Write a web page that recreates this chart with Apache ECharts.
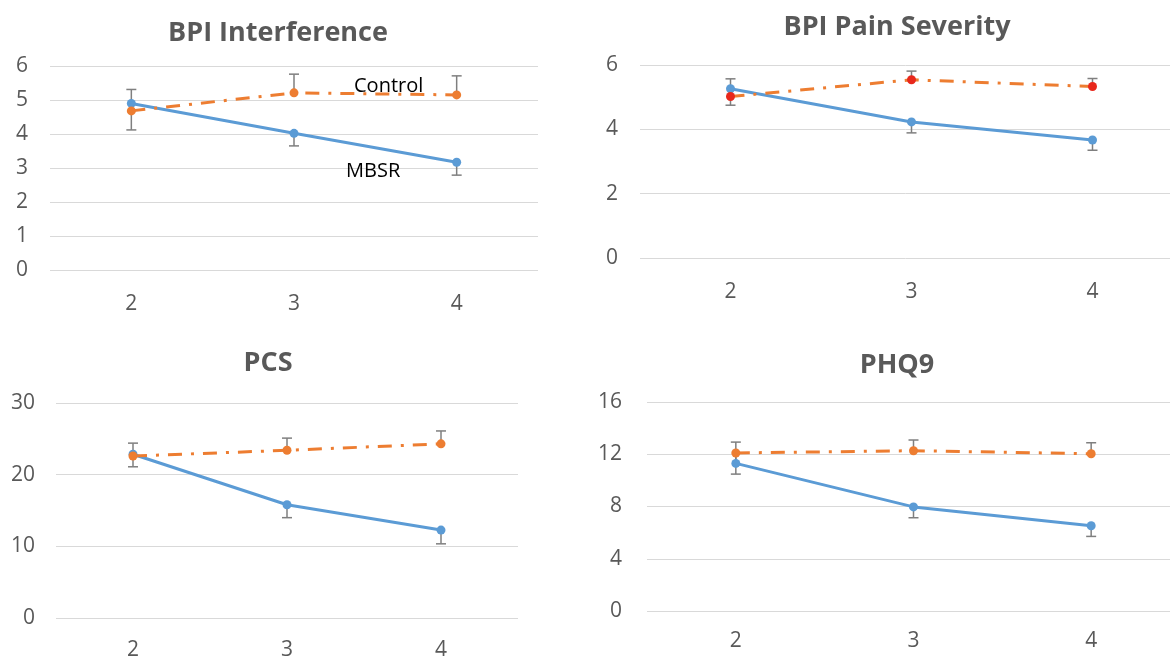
<!DOCTYPE html>
<html>
<head>
    <meta charset="utf-8">
    <title></title>
    <script type="text/javascript" src="https://cdn.jsdelivr.net/npm/echarts@6/dist/echarts.min.js"></script>
</head>
<body style="margin:0;background:#fff;">

<div id="main" style="width: 1170px;height:658px;"></div>
<script type="text/javascript">
    // 时间点
    var categories = ['2', '3', '4'];

    // BPI Interference
    var bpiIntMbsr = [4.9, 4.02, 3.17];
    var bpiIntControl = [4.68, 5.21, 5.15];
    var bpiIntMbsrErr = [5.31, 3.65, 2.79];
    var bpiIntControlErr = [4.12, 5.76, 5.71];

    // BPI Pain Severity
    var bpiPainMbsr = [5.26, 4.23, 3.67];
    var bpiPainControl = [5.02, 5.54, 5.33];
    var bpiPainMbsrErr = [5.57, 3.89, 3.35];
    var bpiPainControlErr = [4.75, 5.81, 5.58];

    // PCS
    var pcsMbsr = [22.85, 15.8, 12.27];
    var pcsControl = [22.6, 23.4, 24.3];
    var pcsMbsrErr = [24.4, 14.0, 10.35];
    var pcsControlErr = [21.1, 25.1, 26.1];

    // PHQ9
    var phqMbsr = [11.3, 7.97, 6.53];
    var phqControl = [12.1, 12.27, 12.04];
    var phqMbsrErr = [12.93, 7.14, 5.71];
    var phqControlErr = [10.48, 13.09, 12.88];

    var FONT = '"Open Sans"';
    var GRAY = '#595959';
    var BLUE = '#5b9bd5';
    var ORANGE = '#ed7d31';

    var myChart = echarts.init(document.getElementById('main'));

    var panels = [
        {title: 'BPI Interference', tx: 278, ty: 20, grid: {left: 50, width: 488, top: 66, height: 204},
         max: 6, interval: 1, ym: 22, xm: 24,
         mbsr: bpiIntMbsr, control: bpiIntControl, mbsrErr: bpiIntMbsrErr, controlErr: bpiIntControlErr, dot: ORANGE},
        {title: 'BPI Pain Severity', tx: 897, ty: 14, grid: {left: 640, width: 543, top: 65, height: 193},
         max: 6, interval: 2, ym: 22, xm: 24,
         mbsr: bpiPainMbsr, control: bpiPainControl, mbsrErr: bpiPainMbsrErr, controlErr: bpiPainControlErr, dot: '#e8281c'},
        {title: 'PCS', tx: 268, ty: 350, grid: {left: 56, width: 462, top: 403, height: 215},
         max: 30, interval: 10, ym: 21, xm: 22,
         mbsr: pcsMbsr, control: pcsControl, mbsrErr: pcsMbsrErr, controlErr: pcsControlErr, dot: ORANGE},
        {title: 'PHQ9', tx: 897, ty: 352, grid: {left: 647, width: 533, top: 402, height: 209},
         max: 16, interval: 4, ym: 25, xm: 20,
         mbsr: phqMbsr, control: phqControl, mbsrErr: phqMbsrErr, controlErr: phqControlErr, dot: ORANGE}
    ];

    // 误差线
    function renderErr(params, api) {
        var p1 = api.coord([api.value(0), api.value(1)]);
        var p2 = api.coord([api.value(0), api.value(2)]);
        var hw = 5;
        var st = {stroke: '#7f7f7f', lineWidth: 1.5};
        return {
            type: 'group',
            children: [
                {type: 'line', shape: {x1: p1[0], y1: p1[1], x2: p2[0], y2: p2[1]}, style: st},
                {type: 'line', shape: {x1: p2[0] - hw, y1: p2[1], x2: p2[0] + hw, y2: p2[1]}, style: st}
            ]
        };
    }

    function errData(vals, ends) {
        return categories.map(function (c, i) { return [i, vals[i], ends[i]]; });
    }

    var option = {
        animation: false,
        backgroundColor: '#fff',
        title: [], grid: [], xAxis: [], yAxis: [], series: [],
        graphic: [
            {type: 'text', left: 354, top: 76, z: 100, style: {text: 'Control', font: '20px ' + FONT, fill: '#000'}},
            {type: 'text', left: 346, top: 161, z: 100, style: {text: 'MBSR', font: '20px ' + FONT, fill: '#000'}}
        ]
    };

    panels.forEach(function (p, k) {
        option.title.push({
            text: p.title, left: p.tx, top: p.ty, textAlign: 'center', padding: 0,
            textStyle: {fontFamily: FONT, fontSize: 27, fontWeight: 'bold', color: GRAY}
        });
        var g = p.grid;
        g.outerBoundsMode = 'none';
        g.containLabel = false;
        option.grid.push(g);
        option.xAxis.push({
            type: 'category', gridIndex: k, data: categories, boundaryGap: true,
            axisLine: {show: false}, axisTick: {show: false},
            axisLabel: {margin: p.xm, fontFamily: FONT, fontSize: 21, color: GRAY}
        });
        option.yAxis.push({
            type: 'value', gridIndex: k, min: 0, max: p.max, interval: p.interval,
            axisLine: {show: false}, axisTick: {show: false},
            axisLabel: {margin: p.ym, fontFamily: FONT, fontSize: 21, color: GRAY},
            splitLine: {lineStyle: {color: '#d9d9d9', width: 1}}
        });
        option.series.push({
            name: 'MBSR', type: 'line', xAxisIndex: k, yAxisIndex: k, data: p.mbsr,
            symbol: 'circle', symbolSize: 9,
            lineStyle: {color: BLUE, width: 3}, itemStyle: {color: BLUE}
        });
        option.series.push({
            name: 'Control', type: 'line', xAxisIndex: k, yAxisIndex: k, data: p.control,
            symbol: 'circle', symbolSize: 9,
            lineStyle: {color: ORANGE, width: 3, type: [14, 9, 3, 9]}, itemStyle: {color: p.dot}
        });
        option.series.push({
            type: 'custom', xAxisIndex: k, yAxisIndex: k, renderItem: renderErr,
            data: errData(p.mbsr, p.mbsrErr), z: 1
        });
        option.series.push({
            type: 'custom', xAxisIndex: k, yAxisIndex: k, renderItem: renderErr,
            data: errData(p.control, p.controlErr), z: 1
        });
    });

    myChart.setOption(option);
</script>

</body>
</html>
